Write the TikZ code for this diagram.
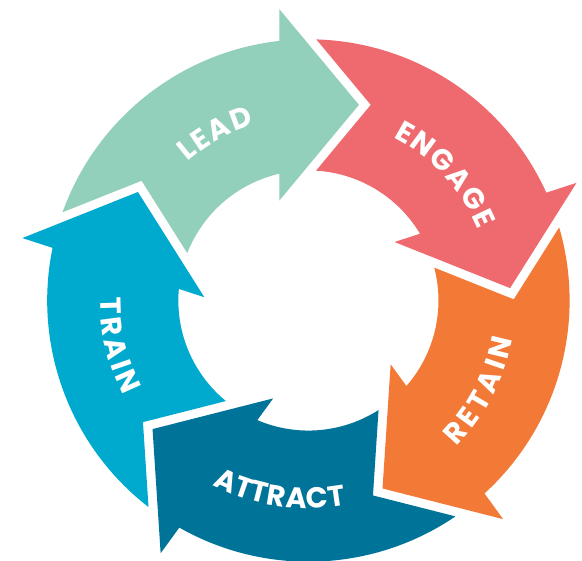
\documentclass[tikz,border=0pt]{standalone}
\usepackage{fontspec}
\usetikzlibrary{decorations.text}
\newfontfamily\labfam{Poppins}
\newcommand{\labfont}{\color{white}\labfam\bfseries\fontsize{29}{30}\selectfont}
\definecolor{leadc}{HTML}{93D0BB}
\definecolor{engc}{HTML}{EF6A6E}
\definecolor{retc}{HTML}{F37A36}
\definecolor{attc}{HTML}{007398}
\definecolor{trainc}{HTML}{00AACE}
\tikzset{
  segpath/.style={line width=0pt},
  toplabel/.style={decorate, decoration={text along path, text align={fit to path}}},
}
\begin{document}
\begin{tikzpicture}[x=1pt,y=1pt]
\useasboundingbox[fill=white] (0,0) rectangle (582,-561);
\begin{scope}[shift={(308.4,-300.5)}]
  % ring segments (model units scaled by 1.075)
  \begin{scope}[scale=1.075]
  \foreach \rot/\col in {0/leadc,-72/engc,-144/retc,-216/attc,-288/trainc}{
    \fill[\col, rotate=\rot]
      (160.26:243) arc[start angle=160.26, end angle=96.38, radius=243]
      -- (-27,271) -- (47,182) -- (-27,93)
      -- (102.89:121) arc[start angle=102.89, end angle=158.63, radius=121]
      -- (-155.17,111.40) -- cycle;
  }
  \end{scope}
  % labels
  \path[decorate, decoration={text along path, text align={fit to path},
        text={|\labfont|LEAD}}]
    (131.1:184) arc[start angle=131.1, end angle=107.2, radius=184];
  \path[decorate, decoration={text along path, text align={fit to path},
        text={|\labfont|ENGAGE}}]
    (62.6:184) arc[start angle=62.6, end angle=22.7, radius=184];
  \path[decorate, decoration={text along path, text align={fit to path},
        text={|\labfont|RETAIN}}]
    (-44.5:208) arc[start angle=-44.5, end angle=-10.6, radius=208];
  \path[decorate, decoration={text along path, text align={fit to path},
        text={|\labfont|ATTRACT}}]
    (-117.5:208) arc[start angle=-117.5, end angle=-79.5, radius=208];
  \path[decorate, decoration={text along path, text align={fit to path},
        text={|\labfont|TRAIN}}]
    (179.2:208) arc[start angle=179.2, end angle=207.1, radius=208];
\end{scope}
\end{tikzpicture}
\end{document}
